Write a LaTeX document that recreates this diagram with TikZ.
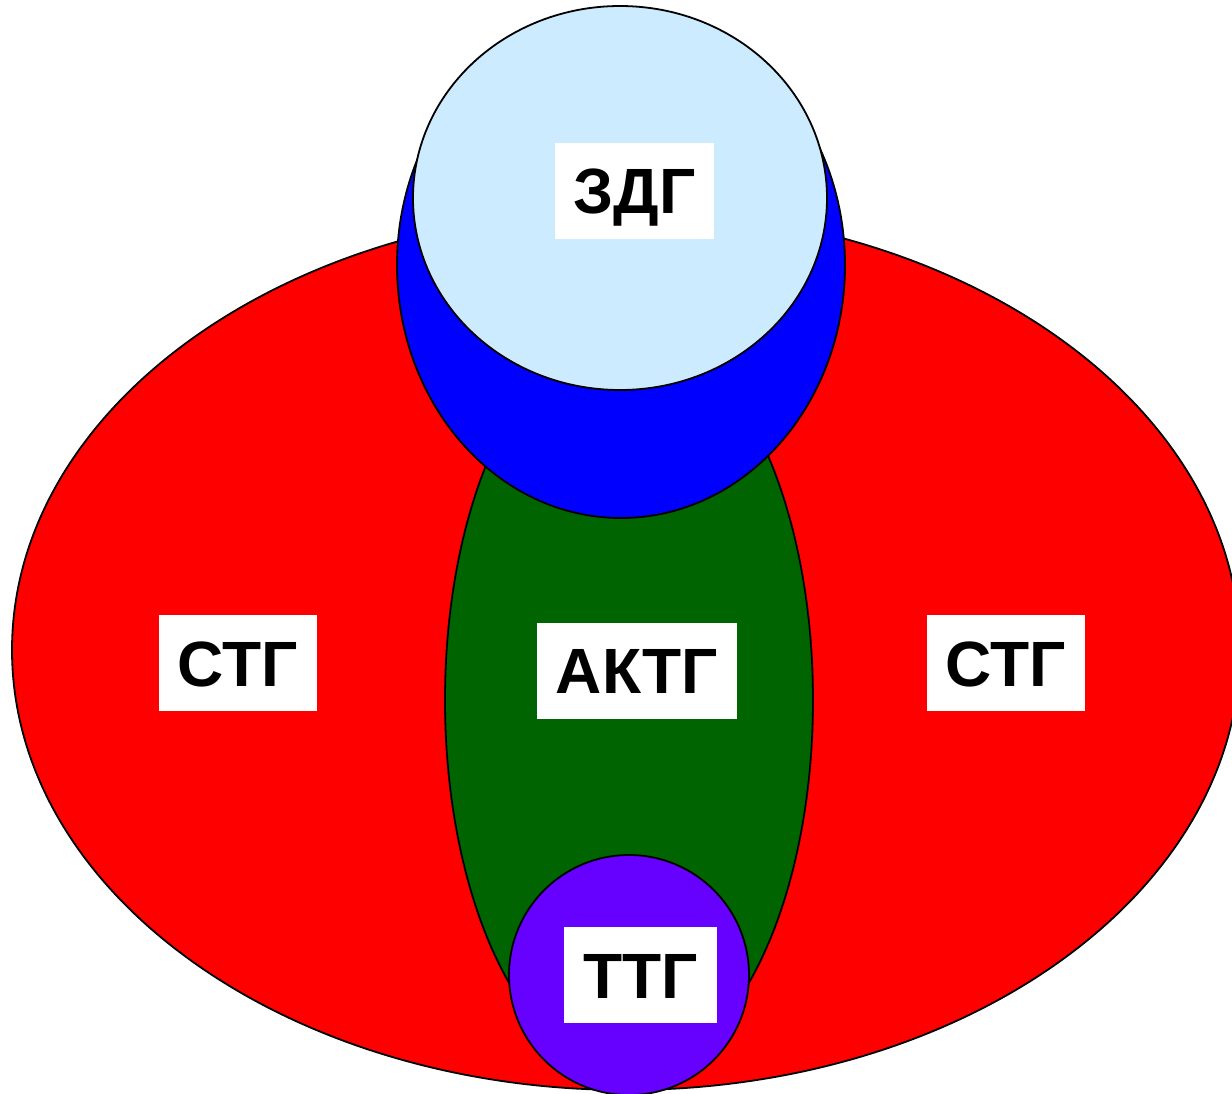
\documentclass[tikz,border=0pt]{standalone}
\usepackage{fontspec}
\setmainfont{Liberation Sans}
\definecolor{stgred}{HTML}{FF0000}
\definecolor{aktggreen}{HTML}{006400}
\definecolor{zdgblue}{HTML}{0000FF}
\definecolor{zdglight}{HTML}{CCEBFF}
\definecolor{ttgviolet}{HTML}{6600FF}
\tikzset{
  region/.style={draw=black, line width=1.8pt},
  tag/.style={fill=white, inner xsep=19pt, inner ysep=25pt, text height=46pt, text depth=0pt,
    font=\fontsize{64}{70}\selectfont\bfseries}
}
\begin{document}
\begin{tikzpicture}[x=1pt,y=-1pt]
\useasboundingbox (0,0) rectangle (1232,1093);
\clip (0,0) rectangle (1232,1093);
\fill[white] (0,0) rectangle (1232,1093);
\draw[region, fill=stgred] (626,650) ellipse [x radius=614, y radius=440];
\draw[region, fill=aktggreen] (629,700) ellipse [x radius=184, y radius=373];
\draw[region, fill=zdgblue] (621,265) ellipse [x radius=224, y radius=253];
\draw[region, fill=zdglight] (620,198) ellipse [x radius=207, y radius=192];
\draw[region, fill=ttgviolet] (629,975) circle [radius=120];
\node[tag] (zdg) at (634.5,190.5) {ЗДГ};
\node[tag] (stgl) at (237.5,663) {СТГ};
\node[tag] (aktg) at (637,670.5) {АКТГ};
\node[tag] (stgr) at (1005.5,663) {СТГ};
\node[tag] (ttg) at (640.5,975) {ТТГ};
\end{tikzpicture}
\end{document}
